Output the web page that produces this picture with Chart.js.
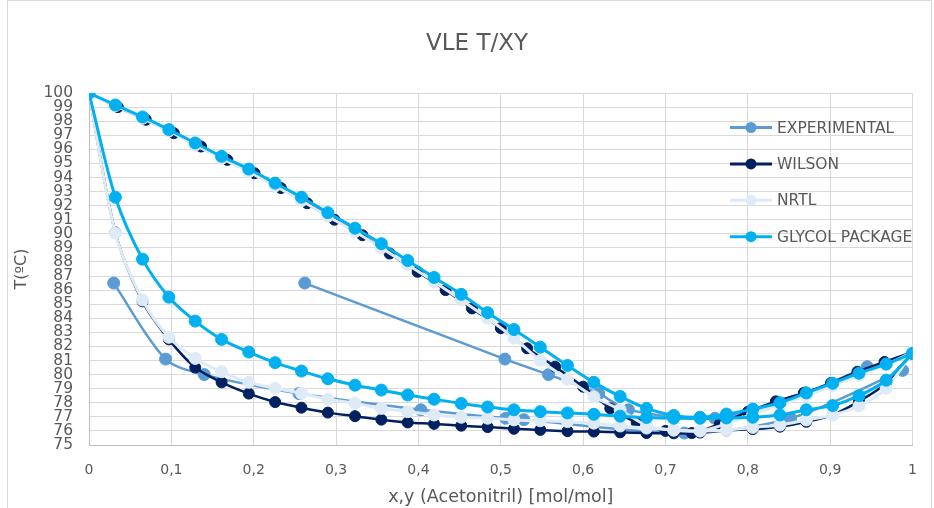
<!DOCTYPE html>
<html>
<head>
<meta charset="utf-8">
<script src="https://cdn.jsdelivr.net/npm/chart.js@4.4.1/dist/chart.umd.min.js"></script>
<style>
  html, body { margin: 0; padding: 0; background: #fff; }
</style>
</head>
<body>
<canvas id="chart" width="934" height="508"></canvas>
<script>
// ---- data ----
const seriesNames = ['EXPERIMENTAL', 'WILSON', 'NRTL', 'GLYCOL PACKAGE'];
const seriesColors = ['#5b9bd5', '#002060', '#deebf7', '#00b0f0'];

const xTickLabels = ['0', '0,1', '0,2', '0,3', '0,4', '0,5', '0,6', '0,7', '0,8', '0,9', '1'];
const yTickLabels = ['75', '76', '77', '78', '79', '80', '81', '82', '83', '84', '85', '86', '87',
  '88', '89', '90', '91', '92', '93', '94', '95', '96', '97', '98', '99', '100'];

// composition grid used by the models
const modelX = [0, 0.032, 0.065, 0.097, 0.129, 0.161, 0.194, 0.226, 0.258, 0.290, 0.323, 0.355,
  0.387, 0.419, 0.452, 0.484, 0.516, 0.548, 0.581, 0.613, 0.645, 0.677, 0.710, 0.742, 0.774,
  0.806, 0.839, 0.871, 0.903, 0.935, 0.968, 1];

const expLiqX = [0.03, 0.093, 0.14, 0.255, 0.403, 0.506, 0.528, 0.723, 0.852, 0.988];
const expLiqT = [86.5, 81.1, 80.0, 78.65, 77.5, 76.9, 76.8, 75.85, 76.9, 80.3];
const expVapX = [0.262, 0.505, 0.558, 0.619, 0.655, 0.76, 0.87, 0.945];
const expVapT = [86.5, 81.1, 80.0, 78.65, 77.5, 76.9, 78.7, 80.56];

const wilsonLiqT = [100, 90.1, 85.2, 82.5, 80.5, 79.45, 78.65, 78.05, 77.65, 77.3, 77.05, 76.8,
  76.6, 76.5, 76.37, 76.27, 76.15, 76.07, 75.98, 75.95, 75.9, 75.85, 75.83, 75.88, 76.03, 76.13,
  76.3, 76.65, 77.15, 78.1, 79.4, 81.6];
const wilsonVapX = [0, 0.035, 0.069, 0.103, 0.136, 0.168, 0.201, 0.233, 0.265, 0.298, 0.332,
  0.365, 0.399, 0.433, 0.465, 0.5, 0.532, 0.566, 0.6, 0.633, 0.665, 0.7, 0.732, 0.766, 0.8,
  0.834, 0.868, 0.901, 0.933, 0.966, 1];
const wilsonVapT = [100, 99.0, 98.1, 97.15, 96.2, 95.25, 94.3, 93.25, 92.17, 91.0, 89.9, 88.6,
  87.3, 86.0, 84.7, 83.3, 81.87, 80.56, 79.14, 77.6, 76.6, 76.0, 75.85, 76.5, 77.35, 78.1,
  78.7, 79.4, 80.2, 80.9, 81.6];

const nrtlLiqT = [100, 90.05, 85.3, 82.65, 81.15, 80.2, 79.45, 79.03, 78.67, 78.25, 77.96, 77.6,
  77.37, 77.13, 76.97, 76.9, 76.78, 76.72, 76.66, 76.55, 76.35, 76.2, 76.08, 76.0, 76.05, 76.25,
  76.42, 76.78, 77.13, 77.77, 79.03, 81.6];
const nrtlVapT = [100, 99.1, 98.2, 97.3, 96.3, 95.35, 94.4, 93.4, 92.35, 91.25, 90.15, 89.0,
  87.8, 86.6, 85.3, 84.0, 82.6, 81.0, 79.67, 78.43, 77.5, 76.4, 76.05, 76.0, 76.5, 77.2,
  77.85, 78.5, 79.2, 79.95, 80.7, 81.6];

const glycolLiqT = [100, 92.6, 88.2, 85.5, 83.8, 82.5, 81.6, 80.85, 80.25, 79.7, 79.25, 78.9,
  78.55, 78.25, 77.95, 77.7, 77.5, 77.37, 77.28, 77.18, 77.05, 76.95, 76.9, 76.9, 76.92, 76.97,
  77.13, 77.5, 77.8, 78.5, 79.6, 81.5];
const glycolVapT = [100, 99.15, 98.3, 97.4, 96.45, 95.5, 94.6, 93.6, 92.6, 91.5, 90.4, 89.3,
  88.1, 86.9, 85.7, 84.4, 83.2, 81.95, 80.65, 79.45, 78.45, 77.6, 77.1, 76.97, 77.2, 77.55,
  78.0, 78.7, 79.38, 80.1, 80.75, 81.5];

const chartTitle = 'VLE T/XY';
const textColor = '#595959';
const fontFamily = '"DejaVu Sans", sans-serif';

function pts(xs, ts) {
  return xs.map((x, i) => ({x: x, y: ts[i]}));
}

function series(idx, xs, ts, radius, width) {
  const c = seriesColors[idx];
  return {
    label: seriesNames[idx],
    data: pts(xs, ts),
    borderColor: c,
    backgroundColor: c,
    pointBackgroundColor: c,
    pointBorderColor: c,
    pointRadius: radius,
    pointBorderWidth: 1,
    borderWidth: width,
    tension: 0.3,
    fill: false
  };
}

// first dataset is painted on top, so glycol goes first
const datasets = [
  series(3, modelX, glycolVapT, 6, 3),
  series(3, modelX, glycolLiqT, 6, 3),
  series(2, modelX, nrtlVapT, 6, 3),
  series(2, modelX, nrtlLiqT, 6, 3),
  series(1, wilsonVapX, wilsonVapT, 5.5, 2.5),
  series(1, modelX, wilsonLiqT, 5.5, 2.5),
  series(0, expVapX, expVapT, 6, 2.5),
  series(0, expLiqX, expLiqT, 6, 2.5)
];

// legend drawn inside the plot, like the spreadsheet one
const sideLegend = {
  id: 'sideLegend',
  afterDatasetsDraw(chart) {
    const ctx = chart.ctx;
    ctx.save();
    ctx.font = '15.5px ' + fontFamily;
    ctx.textBaseline = 'middle';
    ctx.textAlign = 'left';
    seriesNames.forEach((name, i) => {
      const y = 127.5 + i * 36.4;
      ctx.strokeStyle = seriesColors[i];
      ctx.lineWidth = 3;
      ctx.beginPath();
      ctx.moveTo(730, y);
      ctx.lineTo(772, y);
      ctx.stroke();
      ctx.fillStyle = seriesColors[i];
      ctx.beginPath();
      ctx.arc(751, y, 5.5, 0, Math.PI * 2);
      ctx.fill();
      ctx.fillStyle = textColor;
      ctx.fillText(name, 777, y + 1);
    });
    ctx.restore();
  }
};

// frame + title (title sits a bit right of the canvas centre in the original)
const frame = {
  id: 'frame',
  beforeDraw(chart) {
    const ctx = chart.ctx;
    ctx.save();
    ctx.strokeStyle = '#d9d9d9';
    ctx.lineWidth = 1;
    ctx.beginPath();
    ctx.moveTo(7.5, 510);
    ctx.lineTo(7.5, 0.5);
    ctx.lineTo(931.5, 0.5);
    ctx.lineTo(931.5, 510);
    ctx.stroke();
    ctx.fillStyle = textColor;
    ctx.font = '23px ' + fontFamily;
    ctx.textAlign = 'center';
    ctx.textBaseline = 'middle';
    ctx.fillText(chartTitle, 477, 44);
    ctx.restore();
  }
};

new Chart(document.getElementById('chart'), {
  type: 'line',
  data: {datasets: datasets},
  plugins: [frame, sideLegend],
  options: {
    responsive: false,
    animation: false,
    layout: {padding: {left: 8, right: 19, top: 93, bottom: 0}},
    plugins: {
      legend: {display: false},
      tooltip: {enabled: false},
      title: {display: false}
    },
    scales: {
      x: {
        type: 'linear',
        min: 0,
        max: 1,
        grid: {color: '#d9d9d9', drawTicks: false},
        border: {color: '#bfbfbf'},
        ticks: {
          stepSize: 0.1,
          padding: 17,
          color: textColor,
          font: {family: fontFamily, size: 14},
          callback: (v, i) => xTickLabels[i]
        },
        title: {
          display: true,
          text: 'x,y (Acetonitril) [mol/mol]',
          color: textColor,
          font: {family: fontFamily, size: 17.5},
          padding: {top: 0, bottom: 0}
        },
        afterFit: s => { s.height = 63; }
      },
      y: {
        type: 'linear',
        min: 75,
        max: 100,
        grid: {color: '#d9d9d9', drawTicks: false},
        border: {color: '#bfbfbf'},
        ticks: {
          stepSize: 1,
          autoSkip: false,
          padding: 16,
          color: textColor,
          font: {family: fontFamily, size: 15.5},
          callback: (v, i) => yTickLabels[i]
        },
        title: {
          display: true,
          text: 'T(ºC)',
          color: textColor,
          font: {family: fontFamily, size: 16},
          padding: {top: 4, bottom: 0}
        },
        afterFit: s => { s.width = 81; }
      }
    }
  }
});
</script>
</body>
</html>
